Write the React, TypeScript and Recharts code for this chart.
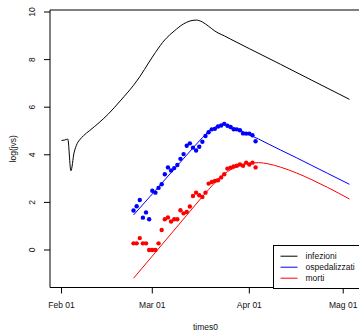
import {
  ComposedChart,
  Line,
  Scatter,
  XAxis,
  YAxis,
  ReferenceArea,
  Legend,
} from "recharts";

// model curves (day 0 = Feb 01)
const infDays = [0, 1, 2, 3, 4, 5, 6, 7, 9, 12, 15, 19, 23, 25, 28, 30, 33, 36, 39, 41, 43, 45, 47, 49, 50, 52, 54, 60, 70, 80, 92];
const infezioni = [4.6, 4.62, 4.66, 3.33, 4.08, 4.47, 4.66, 4.8, 5.02, 5.35, 5.72, 6.3, 6.92, 7.28, 7.9, 8.3, 8.83, 9.2, 9.5, 9.62, 9.66, 9.58, 9.4, 9.2, 9.12, 9.0, 8.86, 8.46, 7.8, 7.13, 6.33];

const fitDays = [23, 30, 35, 40, 45, 47, 48, 49, 50, 51, 52, 53, 55, 58, 61, 63, 66, 70, 75, 80, 85, 92];
const ospFit = [1.47, 2.5, 3.25, 3.99, 4.72, 4.98, 5.08, 5.16, 5.22, 5.26, 5.27, 5.25, 5.15, 4.97, 4.78, 4.66, 4.46, 4.2, 3.88, 3.55, 3.22, 2.76];
const mortiFit = [-1.19, -0.1, 0.68, 1.46, 2.24, 2.54, 2.69, 2.83, 2.96, 3.08, 3.19, 3.29, 3.44, 3.6, 3.66, 3.67, 3.62, 3.48, 3.24, 2.95, 2.63, 2.14];

// observed points, daily from Feb 24 (day 23)
const obsStart = 23;
const ospObs = [1.66, 1.84, 2.1, 1.36, 1.58, 1.29, 2.49, 2.41, 2.61, 2.76, 3.18, 3.47, 3.34, 3.44, 3.57, 3.83, 4.03, 4.38, 4.48, 4.3, 4.18, 4.34, 4.55, 4.79, 4.95, 5.07, 5.09, 5.19, 5.23, 5.3, 5.22, 5.17, 5.07, 5.07, 5.03, 4.9, 4.89, 4.89, 4.82, 4.57];
const mortiObs = [0.28, 0.28, 0.5, 0.28, 0.28, 0, 0, 0, 0.28, 0.84, 1.29, 1.37, 1.2, 1.29, 1.29, 1.67, 1.54, 1.6, 1.83, 2.27, 2.41, 2.3, 2.23, 2.41, 2.79, 2.86, 2.9, 2.93, 3.05, 3.18, 3.42, 3.46, 3.51, 3.54, 3.59, 3.54, 3.67, 3.59, 3.67, 3.47];

const seriesNames = ["infezioni", "ospedalizzati", "morti"];
const seriesColors = ["black", "blue", "red"];

const xTicks = [0, 29, 60, 90];
const xTickLabels = ["Feb 01", "Mar 01", "Apr 01", "Mag 01"];
const yTicks = [0, 2, 4, 6, 8, 10];

const xDomain = [-3.68, 95.68];
const yDomain = [-1.576, 10.084];

const FONT = "'Liberation Sans', Arial, Helvetica, sans-serif";

const toRows = (days: number[], vals: number[]) => days.map((d, i) => ({ day: d, v: vals[i] }));
const obsRows = (vals: number[]) => vals.map((v, i) => ({ day: obsStart + i, v }));

const infData = toRows(infDays, infezioni);
const ospData = toRows(fitDays, ospFit);
const mortiData = toRows(fitDays, mortiFit);
const ospPts = obsRows(ospObs);
const mortiPts = obsRows(mortiObs);

const dot = (color: string) => (p: any) => <circle cx={p.cx} cy={p.cy} r={2.2} fill={color} />;

function XTick({ x, y, payload }: any) {
  const i = xTicks.indexOf(payload.value);
  return (
    <text x={x} y={y + 12.5} textAnchor="middle" fontSize={8.5} fontFamily={FONT} fill="#111">
      {xTickLabels[i]}
    </text>
  );
}

function YTick({ x, y, payload }: any) {
  return (
    <text
      x={x - 7}
      y={y}
      textAnchor="middle"
      fontSize={8.5}
      fontFamily={FONT}
      fill="#111"
      transform={`rotate(-90 ${x - 7} ${y})`}
    >
      {payload.value}
    </text>
  );
}

// R-style legend box, bottom right, cut by the right edge like the original
function LegendBox() {
  return (
    <svg width={100} height={44} style={{ display: "block", overflow: "visible" }}>
      <rect x={0.5} y={0.5} width={100} height={43} fill="white" stroke="#000" />
      {seriesNames.map((name, i) => (
        <g key={name}>
          <line x1={7.5} x2={24.5} y1={11.2 + i * 11} y2={11.2 + i * 11} stroke={seriesColors[i]} strokeWidth={1} />
          <text x={32.5} y={11.2 + i * 11} dominantBaseline="central" fontSize={8.5} fontFamily={FONT} fill="#111">
            {name}
          </text>
        </g>
      ))}
    </svg>
  );
}

export default function App() {
  return (
    <div style={{ position: "fixed", left: 0, top: 0, width: 359, height: 332, overflow: "hidden", background: "white" }}>
      <ComposedChart width={361} height={332} margin={{ top: 10, right: 0, bottom: 0, left: 0 }}>
        <XAxis
          dataKey="day"
          type="number"
          domain={xDomain}
          ticks={xTicks}
          tick={<XTick />}
          tickSize={6}
          axisLine={false}
          tickLine={{ stroke: "#000" }}
          height={44.5}
          allowDataOverflow
          label={{
            content: ({ viewBox }: any) => (
              <text x={viewBox.x + viewBox.width / 2} y={330} textAnchor="middle" fontSize={8.5} fontFamily={FONT} fill="#111">
                times0
              </text>
            ),
          }}
        />
        <YAxis
          type="number"
          domain={yDomain}
          ticks={yTicks}
          tick={<YTick />}
          tickSize={6}
          axisLine={false}
          tickLine={{ stroke: "#000" }}
          width={50}
          allowDataOverflow
          label={{
            content: ({ viewBox }: any) => {
              const cy = viewBox.y + viewBox.height / 2;
              return (
                <text x={15.5} y={cy} textAnchor="middle" fontSize={8.5} fontFamily={FONT} fill="#111" transform={`rotate(-90 15.5 ${cy})`}>
                  log(jvs)
                </text>
              );
            },
          }}
        />
        <ReferenceArea
          x1={xDomain[0]}
          x2={xDomain[1]}
          y1={yDomain[0]}
          y2={yDomain[1]}
          fill="none"
          stroke="#000"
          strokeWidth={1}
          ifOverflow="visible"
        />
        <Line data={infData} dataKey="v" name={seriesNames[0]} type="monotone" stroke={seriesColors[0]} strokeWidth={1} dot={false} isAnimationActive={false} />
        <Line data={ospData} dataKey="v" name={seriesNames[1]} type="monotone" stroke={seriesColors[1]} strokeWidth={1} dot={false} isAnimationActive={false} />
        <Line data={mortiData} dataKey="v" name={seriesNames[2]} type="monotone" stroke={seriesColors[2]} strokeWidth={1} dot={false} isAnimationActive={false} />
        <Scatter data={ospPts} dataKey="v" shape={dot(seriesColors[1])} legendType="none" isAnimationActive={false} />
        <Scatter data={mortiPts} dataKey="v" shape={dot(seriesColors[2])} legendType="none" isAnimationActive={false} />
        <Legend
          layout="vertical"
          align="center"
          verticalAlign="middle"
          content={<LegendBox />}
          wrapperStyle={{ position: "absolute", left: 272.5, top: 244.5, width: 100, height: 44, margin: 0, padding: 0 }}
        />
      </ComposedChart>
    </div>
  );
}
